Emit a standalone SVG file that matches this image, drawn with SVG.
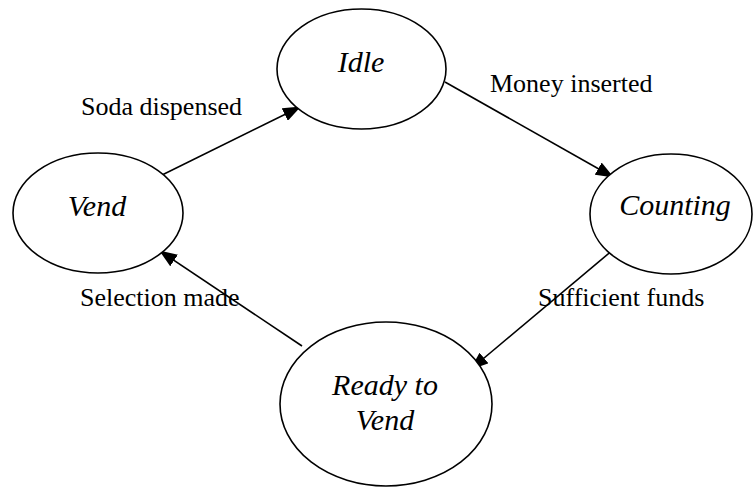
<svg xmlns="http://www.w3.org/2000/svg" width="753" height="487" viewBox="0 0 753 487">
  <style>
    .state ellipse { fill: #ffffff; stroke: #000000; stroke-width: 1.6; }
    .state text { font-style: italic; font-size: 30px; fill: #000000; text-anchor: middle; }
    .edge { fill: none; stroke: #000000; stroke-width: 1.6; marker-end: url(#arrow); }
    .label { font-size: 26px; fill: #000000; }
  </style>
  <defs>
    <marker id="arrow" markerUnits="userSpaceOnUse" markerWidth="18" markerHeight="14" viewBox="0 0 18 14" refX="17" refY="7" orient="auto">
      <path d="M0,0 L18,7 L0,14 Z" fill="#000000"/>
    </marker>
  </defs>
  <rect width="753" height="487" fill="#ffffff"/>

  <g font-family="'Liberation Serif', 'Times New Roman', 'DejaVu Serif', serif">
    <!-- transitions -->
    <g id="connectors">
      <path class="edge" d="M158,177 L300,107"/>
      <path class="edge" d="M445,82 L613,177"/>
      <path class="edge" d="M614,249 L471,369"/>
      <path class="edge" d="M302,346 L160,251"/>
    </g>

    <!-- transition labels -->
    <g id="labels">
      <text class="label" x="81" y="115">Soda dispensed</text>
      <text class="label" x="490" y="92">Money inserted</text>
      <text class="label" x="80" y="306">Selection made</text>
      <text class="label" x="538" y="306">Sufficient funds</text>
    </g>

    <!-- states -->
    <g id="idle" class="state">
      <ellipse cx="361.5" cy="69" rx="84.5" ry="60"/>
      <text x="361" y="72">Idle</text>
    </g>
    <g id="vend" class="state">
      <ellipse cx="98" cy="213" rx="85" ry="60"/>
      <text x="97" y="216">Vend</text>
    </g>
    <g id="counting" class="state">
      <ellipse cx="671" cy="214" rx="81" ry="60"/>
      <text x="675" y="215">Counting</text>
    </g>
    <g id="ready-to-vend" class="state">
      <ellipse cx="386" cy="404" rx="106" ry="82"/>
      <text x="385" y="395">Ready to</text>
      <text x="385" y="430">Vend</text>
    </g>
  </g>
</svg>
